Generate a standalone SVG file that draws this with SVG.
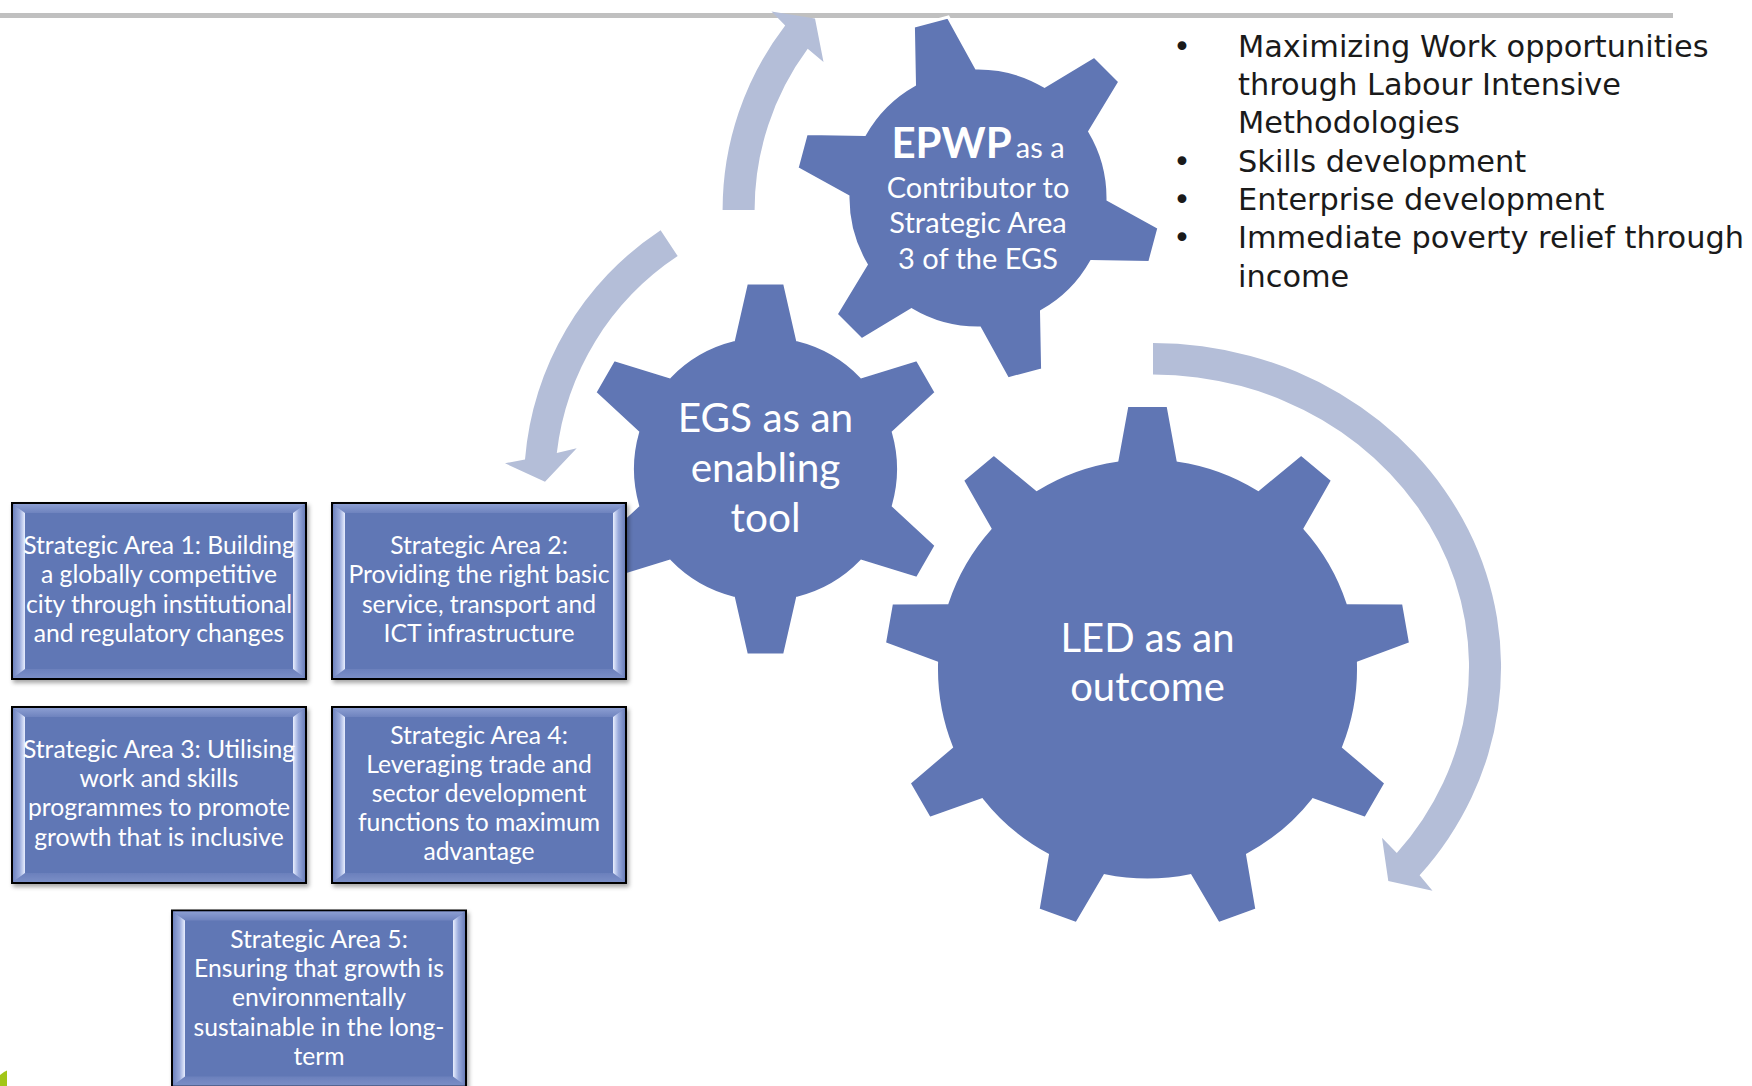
<svg xmlns="http://www.w3.org/2000/svg" xmlns:xlink="http://www.w3.org/1999/xlink" width="1752" height="1086" viewBox="0 0 1752 1086">
  <style>
    .gear { fill: #6076B4; stroke: #FFFFFF; stroke-width: 3; stroke-linejoin: miter; }
    .gear-text { font-family: Lato, "Liberation Sans", sans-serif; fill: #FFFFFF; text-anchor: middle; }
    .box-text { font-family: Lato, "Liberation Sans", sans-serif; font-size: 24.7px; fill: #FFFFFF; text-anchor: middle; }
    .arrow { fill: #B4BED8; }
    .bullets { font-family: "DejaVu Sans", "Liberation Sans", sans-serif; font-size: 30.4px; fill: #1A1A1A; }
  </style>
  <defs>
    <linearGradient id="bvTop" x1="0" y1="0" x2="0" y2="1">
      <stop offset="0" stop-color="#8C9ED2"/>
      <stop offset="1" stop-color="#6E83BE"/>
    </linearGradient>
    <linearGradient id="bvBot" x1="0" y1="0" x2="0" y2="1">
      <stop offset="0" stop-color="#6B80BC"/>
      <stop offset="1" stop-color="#7A8EC6"/>
    </linearGradient>
    <linearGradient id="bvLeft" x1="0" y1="0" x2="1" y2="0">
      <stop offset="0" stop-color="#6F84BF"/>
      <stop offset="0.55" stop-color="#9AABDC"/>
      <stop offset="1" stop-color="#E9EFFF"/>
    </linearGradient>
    <linearGradient id="bvRight" x1="0" y1="0" x2="1" y2="0">
      <stop offset="0" stop-color="#E9EFFF"/>
      <stop offset="0.45" stop-color="#9AABDC"/>
      <stop offset="1" stop-color="#6A7EB9"/>
    </linearGradient>
    <filter id="boxShadow" x="-5%" y="-5%" width="115%" height="115%">
      <feDropShadow dx="2" dy="3" stdDeviation="2" flood-color="#000000" flood-opacity="0.35"/>
    </filter>
    <!-- bevelled strategic-area tile, 296 x 178 -->
    <symbol id="bevelBox" viewBox="0 0 296 178" overflow="visible">
      <rect x="1" y="1" width="294" height="176" fill="#6177B5" stroke="#000000" stroke-width="2"/>
      <path d="M2,2 L294,2 L282,11 L14,11 Z" fill="url(#bvTop)"/>
      <path d="M2,176 L294,176 L282,167 L14,167 Z" fill="url(#bvBot)"/>
      <path d="M2,2 L14,11 L14,167 L2,176 Z" fill="url(#bvLeft)"/>
      <path d="M294,2 L282,11 L282,167 L294,176 Z" fill="url(#bvRight)"/>
    </symbol>
  </defs>

  <!-- header rule -->
  <rect x="0" y="13" width="1673" height="5" fill="#C0C0C0"/>

  <!-- gears -->
  <g id="gear-epwp">
    <path class="gear" d="M914.5,84.6 L913.4,26.4 L948.2,17.1 L976.3,68.0 A130,130 0 0 1 1044.5,86.3 L1094.3,56.2 L1119.8,81.7 L1089.7,131.5 A130,130 0 0 1 1108.0,199.7 L1158.9,227.8 L1149.6,262.6 L1091.4,261.5 A130,130 0 0 1 1041.5,311.4 L1042.6,369.6 L1007.8,378.9 L979.7,328.0 A130,130 0 0 1 911.5,309.7 L861.7,339.8 L836.2,314.3 L866.3,264.5 A130,130 0 0 1 848.0,196.3 L797.1,168.2 L806.4,133.4 L864.6,134.5 A130,130 0 0 1 914.5,84.6 Z"/>
    <text class="gear-text" x="978" y="158"><tspan font-weight="bold" font-size="42">EPWP</tspan> <tspan font-size="29">as a</tspan></text>
    <text class="gear-text" font-size="29" x="978" y="197.5">Contributor to</text>
    <text class="gear-text" font-size="29" x="978" y="233">Strategic Area</text>
    <text class="gear-text" font-size="29" x="978" y="268.5">3 of the EGS</text>
  </g>

  <g id="gear-egs">
    <path class="gear" d="M733.5,339.9 L746.5,283 L784.5,283 L797.5,339.9 A133,133 0 0 1 861.3,376.7 L917.1,359.5 L936.1,392.5 L893.3,432.2 A133,133 0 0 1 893.3,505.8 L936.1,545.5 L917.1,578.5 L861.3,561.3 A133,133 0 0 1 797.5,598.1 L784.5,655 L746.5,655 L733.5,598.1 A133,133 0 0 1 669.7,561.3 L613.9,578.5 L594.9,545.5 L637.7,505.8 A133,133 0 0 1 637.7,432.2 L594.9,392.5 L613.9,359.5 L669.7,376.7 A133,133 0 0 1 733.5,339.9 Z"/>
    <text class="gear-text" font-size="40.5" x="765.5" y="431.5">EGS as an</text>
    <text class="gear-text" font-size="40.5" x="765.5" y="481.5">enabling</text>
    <text class="gear-text" font-size="40.5" x="765.5" y="531.5">tool</text>
  </g>

  <g id="gear-led">
    <path class="gear" d="M1117,460.2 L1127,405.5 L1168,405.5 L1178,460.2 A211,211 0 0 1 1258.34,489.45 L1301.18,453.98 L1332.58,480.34 L1305.06,528.67 A211,211 0 0 1 1347.84,602.71 L1403.44,603.07 L1410.56,643.45 L1358.42,662.79 A211,211 0 0 1 1343.57,746.99 L1385.94,783.0 L1365.44,818.5 L1313.07,799.81 A211,211 0 0 1 1247.57,854.78 L1256.88,909.6 L1218.36,923.62 L1190.25,875.64 A211,211 0 0 1 1104.75,875.64 L1076.64,923.62 L1038.12,909.6 L1047.43,854.78 A211,211 0 0 1 981.93,799.81 L929.56,818.5 L909.06,783.0 L951.43,746.99 A211,211 0 0 1 936.58,662.79 L884.44,643.45 L891.56,603.07 L947.16,602.71 A211,211 0 0 1 989.94,528.67 L962.42,480.34 L993.82,453.98 L1036.66,489.45 A211,211 0 0 1 1117,460.2 Z"/>
    <text class="gear-text" font-size="40" x="1147.5" y="652">LED as an</text>
    <text class="gear-text" font-size="40" x="1147.5" y="701">outcome</text>
  </g>

  <!-- curved cycle arrows -->
  <g id="connectors">
    <path id="arrow-to-epwp" class="arrow" d="M722.6,210 A303,303 0 0 1 785.2,25.5 L771.5,11.5 L815,18.5 L823.5,62 L807.7,48.8 A271,271 0 0 0 754.6,210 Z"/>
    <path id="arrow-to-areas" class="arrow" d="M660.6,230.2 A304,304 0 0 0 525,459.5 L505,463.3 L545,481.7 L576.7,448.3 L556.8,453.1 A273,273 0 0 1 677.7,256.1 Z"/>
    <path id="arrow-around-led" class="arrow" d="M1153,343 A348,324 0 0 1 1419.6,875.3 L1432.5,890.8 L1388.3,880.9 L1382,837.7 L1396.8,853.1 A316,292.5 0 0 0 1153,374.5 Z"/>
  </g>

  <!-- strategic area tiles -->
  <g id="area-1">
    <use xlink:href="#bevelBox" href="#bevelBox" x="11" y="502" width="296" height="178" filter="url(#boxShadow)"/>
    <text class="box-text" x="159" y="554">Strategic Area 1: Building</text>
    <text class="box-text" x="159" y="583">a globally competitive</text>
    <text class="box-text" x="159" y="612.5">city through institutional</text>
    <text class="box-text" x="159" y="641.5">and regulatory changes</text>
  </g>
  <g id="area-2">
    <use xlink:href="#bevelBox" href="#bevelBox" x="331" y="502" width="296" height="178" filter="url(#boxShadow)"/>
    <text class="box-text" x="479" y="554">Strategic Area 2:</text>
    <text class="box-text" x="479" y="583">Providing the right basic</text>
    <text class="box-text" x="479" y="612.5">service, transport and</text>
    <text class="box-text" x="479" y="641.5">ICT infrastructure</text>
  </g>
  <g id="area-3">
    <use xlink:href="#bevelBox" href="#bevelBox" x="11" y="706" width="296" height="178" filter="url(#boxShadow)"/>
    <text class="box-text" x="159" y="757.5">Strategic Area 3: Utilising</text>
    <text class="box-text" x="159" y="786.5">work and skills</text>
    <text class="box-text" x="159" y="816">programmes to promote</text>
    <text class="box-text" x="159" y="845.5">growth that is inclusive</text>
  </g>
  <g id="area-4">
    <use xlink:href="#bevelBox" href="#bevelBox" x="331" y="706" width="296" height="178" filter="url(#boxShadow)"/>
    <text class="box-text" x="479" y="743.5">Strategic Area 4:</text>
    <text class="box-text" x="479" y="772.5">Leveraging trade and</text>
    <text class="box-text" x="479" y="801.5">sector development</text>
    <text class="box-text" x="479" y="831">functions to maximum</text>
    <text class="box-text" x="479" y="860">advantage</text>
  </g>
  <g id="area-5">
    <use xlink:href="#bevelBox" href="#bevelBox" x="171" y="909.5" width="296" height="178" filter="url(#boxShadow)"/>
    <text class="box-text" x="319" y="947.5">Strategic Area 5:</text>
    <text class="box-text" x="319" y="976.5">Ensuring that growth is</text>
    <text class="box-text" x="319" y="1006">environmentally</text>
    <text class="box-text" x="319" y="1035.5">sustainable in the long-</text>
    <text class="box-text" x="319" y="1065">term</text>
  </g>

  <!-- EPWP focus list -->
  <g id="epwp-focus" class="bullets">
    <text x="1182" y="56.7" text-anchor="middle">•</text>
    <text x="1238" y="56.7">Maximizing Work opportunities</text>
    <text x="1238" y="95">through Labour Intensive</text>
    <text x="1238" y="133.3">Methodologies</text>
    <text x="1182" y="171.7" text-anchor="middle">•</text>
    <text x="1238" y="171.7">Skills development</text>
    <text x="1182" y="210" text-anchor="middle">•</text>
    <text x="1238" y="210">Enterprise development</text>
    <text x="1182" y="248.3" text-anchor="middle">•</text>
    <text x="1238" y="248.3">Immediate poverty relief through</text>
    <text x="1238" y="286.7">income</text>
  </g>

  <!-- slide corner accent -->
  <path d="M0,1075 L4,1072 L7,1070.5 L7,1086 L0,1086 Z" fill="#A2C617"/>
</svg>
